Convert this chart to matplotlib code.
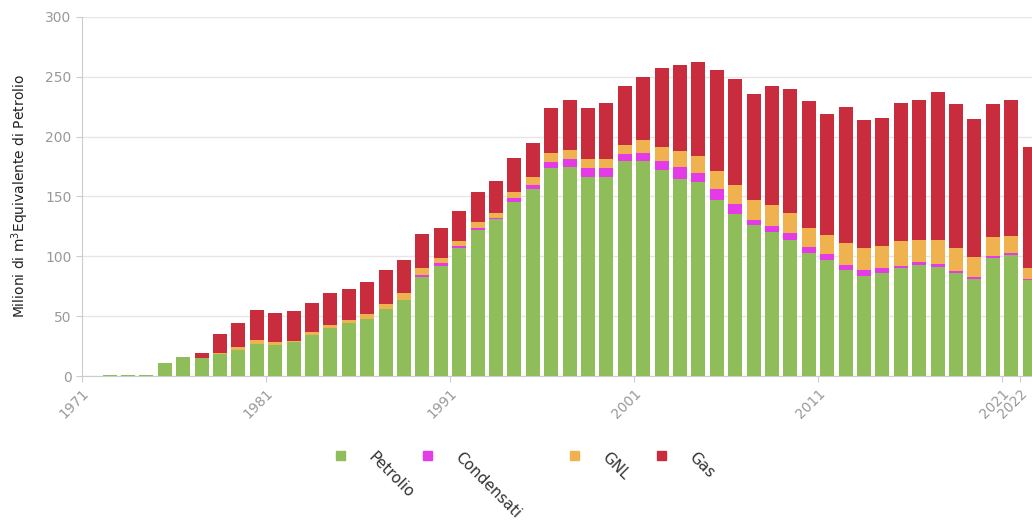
import numpy as np
import matplotlib.pyplot as plt
from matplotlib.patches import Rectangle

# Dati (milioni di Sm3 o.e.)
anni = np.arange(1972, 2023)
petrolio = [1, 1, 1, 11, 16, 15, 18, 22, 27, 26, 28, 34, 40, 44, 47.5, 56, 63.5, 83, 92, 107,
            122, 131, 145, 156, 174, 175, 166, 166, 180, 180, 172, 164.6, 162, 147, 135, 126, 120, 114, 103, 97,
            88.5, 83.6, 86, 90, 92.7, 91, 86, 81, 98.6, 101, 80]
condensati = [0, 0, 0, 0, 0, 0, 0, 0, 0, 0, 0, 0, 0, 0, 0, 0, 0, 1, 2.5, 1.5,
              2, 1, 3.6, 3.5, 5, 6, 7.5, 8, 5.5, 6, 8, 10.4, 7.5, 9, 8.6, 4, 5, 5.5, 5, 5,
              4.2, 5, 4, 2, 2.3, 2.6, 2, 2, 1.4, 2, 1]
gnl = [0, 0, 0, 0, 0, 0, 1, 2, 3, 2, 1, 3, 3, 3, 4.5, 4, 6, 6, 4, 4.5,
       4.6, 4, 5.4, 6.5, 7, 8, 7.5, 7, 7.5, 11, 11, 13, 14.5, 15, 16, 17, 18, 16.5, 15.6, 16,
       18.3, 18.5, 18.6, 21, 19, 20, 19, 16.4, 16, 14, 9]
gas = [0, 0, 0, 0, 0, 4, 16, 20, 25, 25, 25, 24, 26, 25.5, 26.5, 28.5, 27.5, 28.6, 25.5, 25,
       25.4, 26.6, 28, 28.7, 38, 42, 43, 47, 49, 53, 66, 72, 78, 85, 88.5, 89, 99, 104, 106, 101,
       114, 107, 107.4, 115, 117, 123.4, 120, 115.3, 111, 114, 101]

serie = ["Petrolio", "Condensati", "GNL", "Gas"]
colori = ["#8fbd59", "#e53be6", "#efb24e", "#c92d3d"]
etichette_x = ["1971", "1981", "1991", "2001", "2011", "2021", "2022"]

fig = plt.figure(figsize=(10.32, 5.21), dpi=100)
ax = fig.add_axes([82 / 1032, 1 - 376 / 521, 1 - 82 / 1032, (376 - 17) / 521])

x = anni + 0.5
base = np.zeros(len(anni))
for valori, col in zip([petrolio, condensati, gnl, gas], colori):
    ax.bar(x, valori, width=0.76, bottom=base, color=col, edgecolor="none", zorder=3)
    base = base + np.array(valori)

ax.set_xlim(1971, 2022.63)
ax.set_ylim(0, 300)
ax.set_yticks(np.arange(0, 301, 50))
ax.set_xticks([int(a) for a in etichette_x])
ax.set_xticklabels(etichette_x, rotation=45, ha="right", va="top", rotation_mode="anchor")
ax.grid(axis="y", color="#e6e6e6", linewidth=1, zorder=0)
for lato in ["top", "right"]:
    ax.spines[lato].set_visible(False)
ax.spines["left"].set_color("#cccccc")
ax.spines["bottom"].set_color("#cccccc")
ax.tick_params(axis="both", colors="#cccccc", labelcolor="#999999", labelsize=10, length=4)
ax.set_ylabel("Milioni di m$^3$Equivalente di Petrolio", fontsize=10, color="#222222", labelpad=10)

# legenda in basso con etichette ruotate
pos_quadrati = [336, 423, 570, 657]
for px, nome, col in zip(pos_quadrati, serie, colori):
    fig.patches.append(Rectangle((px / 1032, 1 - 460 / 521), 9 / 1032, 9 / 521,
                                 transform=fig.transFigure, color=col))
    fig.text((px + 40) / 1032, 1 - 450 / 521, nome, rotation=-45, rotation_mode="anchor",
             ha="left", va="top", fontsize=11, color="#333333")

fig.savefig("out.png", dpi=100)
